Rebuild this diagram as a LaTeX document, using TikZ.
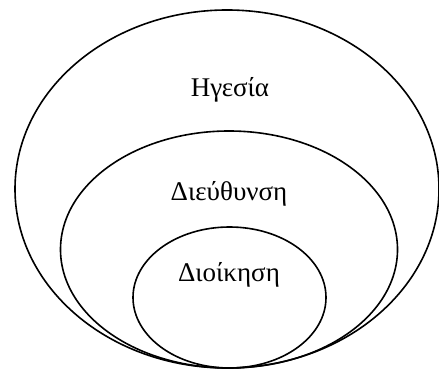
\documentclass[tikz,border=0pt]{standalone}
\usepackage{fontspec}
\setmainfont{Liberation Serif}
\begin{document}
\begin{tikzpicture}[x=1pt,y=1pt,
  ring/.style={draw=black, line width=1.6pt},
  lbl/.style={font=\fontsize{27}{32}\selectfont, inner sep=0pt}]
\useasboundingbox (0,0) rectangle (439,369);
\draw[ring] (227,180) ellipse [x radius=212, y radius=179];
\draw[ring] (229,119.5) ellipse [x radius=168.5, y radius=118.5];
\draw[ring] (229.5,71.5) ellipse [x radius=96.5, y radius=70.5];
\node[lbl] (hgesia) at (230,279) {Ηγεσία};
\node[lbl] (dieuthynsi) at (229,175) {Διεύθυνση};
\node[lbl] (dioikisi) at (229,94) {Διοίκηση};
\end{tikzpicture}
\end{document}
